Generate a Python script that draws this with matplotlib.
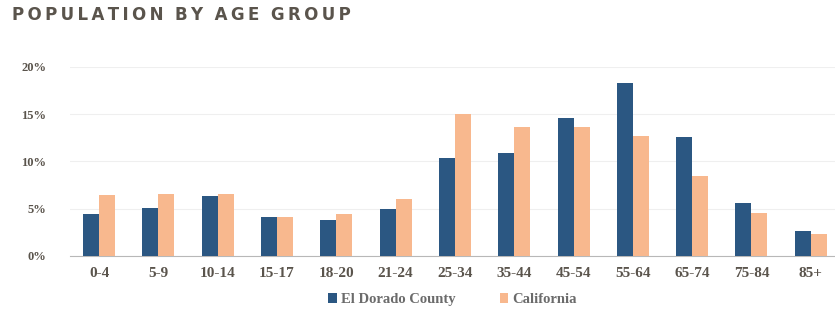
import numpy as np
import matplotlib
matplotlib.use("Agg")
from matplotlib import pyplot as plt

groups = ['0-4', '5-9', '10-14', '15-17', '18-20', '21-24', '25-34',
          '35-44', '45-54', '55-64', '65-74', '75-84', '85+']
el_dorado = [4.4, 5.1, 6.3, 4.1, 3.8, 5.0, 10.4, 10.9, 14.6, 18.3, 12.6, 5.6, 2.6]
california = [6.4, 6.6, 6.6, 4.1, 4.4, 6.0, 15.0, 13.7, 13.7, 12.7, 8.5, 4.5, 2.3]
yticks = [0, 5, 10, 15, 20]

blue = '#2b5782'
orange = '#f8b88e'
txt = '#5a544c'

fig = plt.figure(figsize=(8.35, 3.16), dpi=100)
ax = fig.add_axes([0.084, 0.19, 0.916, 0.598])

x = np.arange(len(groups))
w = 0.27
ax.bar(x - w/2, el_dorado, w, color=blue, label='El Dorado County', zorder=3)
ax.bar(x + w/2, california, w, color=orange, label='California', zorder=3)

ax.set_xlim(-0.49, 12.41)
ax.set_ylim(0, 20)
ax.set_yticks(yticks)
ax.set_yticklabels([f'{t}%' for t in yticks])
ax.set_xticks(x)
ax.set_xticklabels(groups)
ax.grid(axis='y', color='#efefef', linewidth=0.8, zorder=0)
for s in ['top', 'right', 'left']:
    ax.spines[s].set_visible(False)
ax.spines['bottom'].set_color('#b8b8b8')
ax.tick_params(length=0)
for lab in ax.get_xticklabels():
    lab.set_fontfamily('Liberation Serif')
    lab.set_fontweight('bold')
    lab.set_fontsize(11)
    lab.set_color(txt)
for lab in ax.get_yticklabels():
    lab.set_fontfamily('Liberation Serif')
    lab.set_fontweight('bold')
    lab.set_fontsize(9)
    lab.set_color(txt)
ax.tick_params(axis='x', pad=8)
ax.tick_params(axis='y', pad=17)

leg = fig.legend(loc='center', bbox_to_anchor=(0.542, 0.052), ncol=2, frameon=False,
                 handlelength=0.6, handleheight=0.6, handletextpad=0.3, columnspacing=3.0,
                 prop={'family': 'Liberation Serif', 'weight': 'bold', 'size': 10.5})
for t in leg.get_texts():
    t.set_color('#6b6b6b')

fig.text(0.014, 0.952, 'P O P U L A T I O N   B Y   A G E   G R O U P'.replace(' ', '\u2009').replace('\u2009\u2009\u2009', '  '),
         fontsize=12, fontweight='bold', color=txt, va='center', ha='left',
         fontfamily='DejaVu Sans')

fig.savefig('out.png', dpi=100)
